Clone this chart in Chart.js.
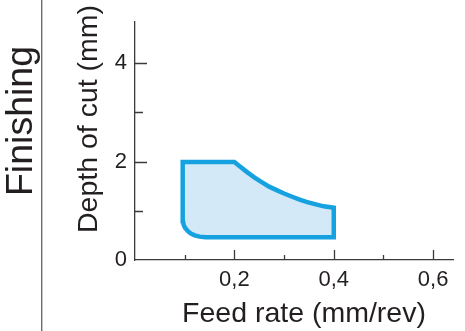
<!DOCTYPE html>
<html>
<head>
<meta charset="utf-8">
<script src="https://cdn.jsdelivr.net/npm/chart.js@4/dist/chart.umd.min.js"></script>
<style>
  html, body { margin: 0; padding: 0; background: #fff; }
  #wrap { position: relative; width: 465px; height: 331px; }
</style>
</head>
<body>
<div id="wrap"><canvas id="chart" width="465" height="331"></canvas></div>
<script>
// outline of the finishing zone (feed mm/rev, depth mm)
const feedRate = [0.15, 0.2, 0.21, 0.225, 0.24, 0.255, 0.27, 0.285, 0.3, 0.315, 0.33, 0.345, 0.36, 0.38, 0.4,
  0.4, 0.142, 0.13, 0.12, 0.112, 0.106, 0.101, 0.098, 0.0965, 0.096, 0.096, 0.15];
const depthOfCut = [1.99, 1.99, 1.91, 1.79, 1.68, 1.58, 1.49, 1.42, 1.35, 1.29, 1.23, 1.18, 1.14, 1.09, 1.06,
  0.46, 0.46, 0.475, 0.5, 0.54, 0.59, 0.65, 0.71, 0.79, 0.88, 1.99, 1.99];

const xMajorTicks = [0.2, 0.4, 0.6];
const xMinorTicks = [0.1, 0.3, 0.5];
const xTickLabels = ["0,2", "0,4", "0,6"];
const yMajorTicks = [0, 2, 4];
const yMinorTicks = [1, 3];
const yTickLabels = ["0", "2", "4"];

const zoneTitle = "Finishing";
const xTitle = "Feed rate (mm/rev)";
const yTitle = "Depth of cut (mm)";

const FONT = '"Liberation Sans", Arial, Helvetica, sans-serif';
const TEXT = "#231f20";
const AXIS = "#3a3a3a";

const points = feedRate.map((x, i) => ({ x: x, y: depthOfCut[i] }));

function near(list, v) {
  return list.findIndex((t) => Math.abs(t - v) < 1e-6);
}

// ticks point inwards in the original, so draw them by hand from the scales
const inwardTicks = {
  id: "inwardTicks",
  afterDraw(chart) {
    const { ctx, scales: { x, y } } = chart;
    ctx.save();
    ctx.strokeStyle = AXIS;
    ctx.lineWidth = 1.3;
    ctx.beginPath();
    xMajorTicks.concat(xMinorTicks).forEach((v) => {
      const px = Math.round(x.getPixelForValue(v)) + 0.5;
      const len = near(xMajorTicks, v) >= 0 ? 10 : 5;
      ctx.moveTo(px, y.bottom);
      ctx.lineTo(px, y.bottom - len);
    });
    yMajorTicks.concat(yMinorTicks).forEach((v) => {
      if (v === 0) return;
      const py = Math.round(y.getPixelForValue(v)) + 0.5;
      const len = near(yMajorTicks, v) >= 0 ? 12 : 8;
      ctx.moveTo(x.left, py);
      ctx.lineTo(x.left + len, py);
    });
    ctx.stroke();

    // axis titles
    ctx.fillStyle = TEXT;
    ctx.font = "28.5px " + FONT;
    ctx.textAlign = "center";
    ctx.textBaseline = "alphabetic";
    ctx.fillText(xTitle, 304, 322);

    ctx.save();
    ctx.translate(97, 119);
    ctx.rotate(-Math.PI / 2);
    ctx.fillText(yTitle, 0, 0);
    ctx.restore();

    // left side label + separator
    ctx.save();
    ctx.font = "37.5px " + FONT;
    ctx.translate(32, 121);
    ctx.rotate(-Math.PI / 2);
    ctx.fillText(zoneTitle, 0, 0);
    ctx.restore();

    ctx.strokeStyle = "#6d6d6d";
    ctx.lineWidth = 1.4;
    ctx.beginPath();
    ctx.moveTo(41.7, 0);
    ctx.lineTo(41.7, 331);
    ctx.stroke();
    ctx.restore();
  }
};

new Chart(document.getElementById("chart"), {
  type: "scatter",
  data: {
    datasets: [
      {
        label: "Finishing",
        data: points,
        showLine: true,
        fill: "shape",
        tension: 0,
        borderColor: "#16a2e0",
        backgroundColor: "#d4e9f8",
        borderWidth: 4.5,
        borderJoinStyle: "miter",
        pointRadius: 0,
        pointHoverRadius: 0,
      },
    ],
  },
  options: {
    responsive: false,
    devicePixelRatio: 1,
    animation: false,
    layout: { padding: { left: 0, top: 20, right: 12, bottom: 0 } },
    plugins: {
      legend: { display: false },
      tooltip: { enabled: false },
    },
    scales: {
      x: {
        type: "linear",
        min: 0,
        max: 0.64,
        grid: { display: false, drawTicks: false },
        border: { display: true, color: AXIS, width: 1.3 },
        ticks: {
          stepSize: 0.1,
          includeBounds: false,
          autoSkip: false,
          maxRotation: 0,
          padding: 7,
          color: TEXT,
          font: { family: FONT, size: 22 },
          callback: (v) => {
            const i = near(xMajorTicks, v);
            return i >= 0 ? xTickLabels[i] : "";
          },
        },
        afterFit: (scale) => { scale.height = 71; },
      },
      y: {
        type: "linear",
        min: 0,
        max: 4.85,
        grid: { display: false, drawTicks: false },
        border: { display: true, color: AXIS, width: 1.3 },
        ticks: {
          stepSize: 1,
          includeBounds: false,
          autoSkip: false,
          padding: 8,
          color: TEXT,
          font: { family: FONT, size: 22 },
          callback: (v) => {
            const i = near(yMajorTicks, v);
            return i >= 0 ? yTickLabels[i] : "";
          },
        },
        afterFit: (scale) => { scale.width = 135; },
      },
    },
  },
  plugins: [inwardTicks],
});
</script>
</body>
</html>
